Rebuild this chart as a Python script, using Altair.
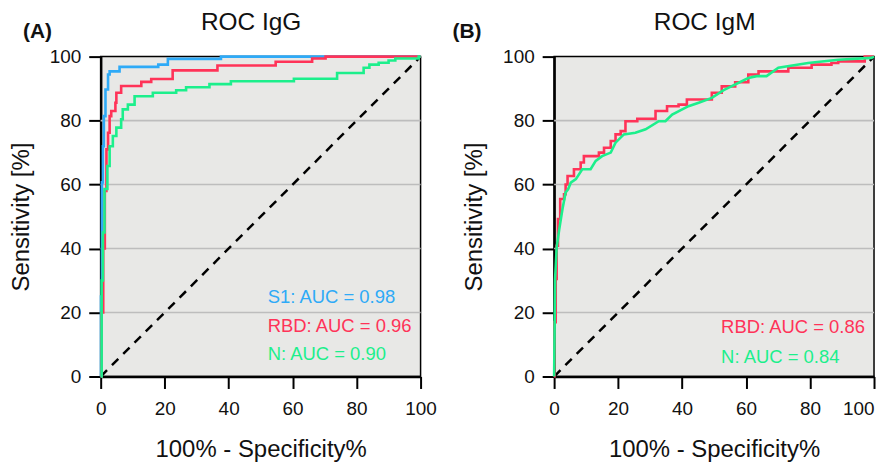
import altair as alt
import pandas as pd

FONT = "Liberation Sans"
BLUE = "#2eaaf7"
RED = "#ff3358"
GREEN = "#1cef8c"

# ---------------- data: ROC IgG ----------------
igg_s1_x = [0, 0.1, 0.4, 0.7, 1.0, 1.5, 2.3, 2.8, 5.9, 18.0, 21.0, 37.6, 100]
igg_s1_y = [0, 25, 60.7, 72, 81.4, 89.7, 94.4, 95.4, 96.8, 97.5, 99.3, 100, 100]

igg_rbd_x = [0, 0.3, 0.8, 1.3, 1.8, 2.3, 2.8, 3.3, 4.6, 4.9, 6.4, 12.7, 15.8, 22.5, 36.5, 54.7, 66.1, 70.3, 100]
igg_rbd_y = [0, 20, 40, 58, 71, 76.2, 81.4, 83, 85.6, 88.7, 90.8, 92.1, 93.0, 95.7, 97.2, 98.4, 99.4, 100, 100]

igg_n_x = [0, 0.3, 0.7, 1.2, 2.1, 2.8, 3.8, 4.9, 6.4, 6.9, 8.5, 10.6, 16.3, 23.6, 26.7, 34.0, 40.7,
           60.4, 73.9, 82.2, 84.0, 86.9, 90.0, 92.1, 99.4, 100]
igg_n_y = [0, 30, 45, 58.6, 65.8, 72, 75.2, 77.8, 80.4, 83.5, 85, 87.6, 88.7, 89.5, 90.4, 91.4, 92.3,
           93.1, 94.9, 96.5, 97.5, 98.1, 98.8, 99.4, 100, 100]

# ---------------- data: ROC IgM ----------------
igm_rbd_x = [0, 0.1, 0.5, 0.8, 1.2, 1.9, 3.1, 3.6, 4.2, 6.2, 8.3, 9.3, 14.0, 15.6, 17.7, 19.2, 20.8, 22.3,
             26.0, 31.7, 35.3, 38.9, 41.5, 49.3, 52.4, 56.6, 60.7, 63.9, 73.2, 80.5, 86.7, 88.8, 97.1, 100]
igm_rbd_y = [0, 17, 30.5, 40.9, 49.2, 55.5, 57, 60, 62.7, 64.8, 66.9, 68.9, 70, 71.5, 73.6, 75.7, 76.7, 79.8,
             80.6, 83, 84.5, 85, 86.6, 88.7, 90.7, 92, 94.4, 95.4, 96.5, 97.5, 98, 98.5, 100, 100]

igm_n_x = [0, 0.3, 0.8, 1.6, 2.6, 3.6, 4.4, 5.2, 6.8, 8.8, 11.4, 13.0, 15.0, 17.7, 19.2, 21.8, 25.4, 28.6,
           32.7, 34.8, 36.9, 42.0, 45.2, 49.3, 53.0, 60.7, 63.3, 66.4, 70.1, 79.4, 88.8, 99.2, 100]
igm_n_y = [0, 30.5, 40.4, 46, 52.3, 57.5, 58.6, 60.6, 61.7, 64.8, 64.8, 67.4, 68.9, 70, 73.1, 75.7, 76.2, 77.3,
           79.8, 79.8, 81.9, 84.5, 85.6, 87.1, 89.5, 93.3, 93.9, 93.9, 96.5, 98, 99, 99.6, 100]

# annotations
igg_labels = ["S1: AUC = 0.98", "RBD: AUC = 0.96", "N: AUC = 0.90"]
igg_label_y = [24.8, 15.8, 6.9]
igg_label_colors = [BLUE, RED, GREEN]
igm_labels = ["RBD: AUC = 0.86", "N: AUC = 0.84"]
igm_label_y = [15.5, 6.1]
igm_label_colors = [RED, GREEN]
label_x = 52.2

tick_vals = [0, 20, 40, 60, 80, 100]
grid_vals = [20, 40, 60, 80]
diag = [0, 100]

axis_style = dict(values=tick_vals, grid=False, domainColor="black", domainWidth=2.5,
                  tickColor="black", tickWidth=2, tickSize=12, labelFlush=False,
                  labelFontSize=19, labelColor="#111", labelFont=FONT,
                  titleFontSize=24, titleFontWeight="normal", titleColor="#111", titleFont=FONT)

xscale = alt.Scale(domain=[0, 100], nice=False, zero=False)
yscale = alt.Scale(domain=[0, 100], nice=False, zero=False)
xaxis_left = alt.Axis(title="100% - Specificity%", labelPadding=11, titlePadding=19, **axis_style)
# the last label of the right panel is kept inside the page edge
xaxis_right = alt.Axis(title="100% - Specificity%", labelPadding=11, titlePadding=19,
                       labelAlign={"condition": {"test": "datum.value == 100", "value": "right"},
                                   "value": "center"},
                       **axis_style)
yaxis = alt.Axis(title="Sensitivity [%]", labelPadding=8, titlePadding=16, **axis_style)


def panel(title, letter, letter_dx, series, labels, label_y, label_colors, xaxis):
    def X():
        return alt.X("x:Q", scale=xscale, axis=xaxis)

    def Y():
        return alt.Y("y:Q", scale=yscale, axis=yaxis)

    grid = alt.Chart(pd.DataFrame({"y": grid_vals})).mark_rule(
        color="#bdbdbd", strokeWidth=1.6).encode(y=Y())
    dline = alt.Chart(pd.DataFrame({"x": diag, "y": diag})).mark_line(
        color="black", strokeWidth=2.5, strokeDash=[9, 7]).encode(x=X(), y=Y())
    curves = []
    for xs, ys, color, interp in series:
        df = pd.DataFrame({"x": xs, "y": ys, "i": list(range(len(xs)))})
        curves.append(alt.Chart(df).mark_line(color=color, strokeWidth=2.6, interpolate=interp).encode(
            x=X(), y=Y(), order="i:Q"))
    txt = alt.Chart(pd.DataFrame({"x": [label_x] * len(labels), "y": label_y,
                                  "t": labels, "c": label_colors})).mark_text(
        align="left", baseline="middle", fontSize=18.5, font=FONT).encode(
        x=X(), y=Y(), text="t:N", color=alt.Color("c:N", scale=None))
    let = alt.Chart(pd.DataFrame({"t": [letter]})).mark_text(
        align="left", baseline="alphabetic", fontSize=21, fontWeight="bold", font=FONT, color="#111").encode(
        x=alt.value(letter_dx), y=alt.value(-19), text="t:N")
    ttl = alt.Chart(pd.DataFrame({"t": [title]})).mark_text(
        align="center", baseline="top", fontSize=24.5, font=FONT, color="#111").encode(
        x=alt.value(151), y=alt.value(-46), text="t:N")
    return alt.layer(grid, dline, *curves, txt, let, ttl).properties(width=321, height=321)


left = panel("ROC IgG", "(A)", -78,
             [(igg_s1_x, igg_s1_y, BLUE, "step-after"),
              (igg_rbd_x, igg_rbd_y, RED, "step-after"),
              (igg_n_x, igg_n_y, GREEN, "step-after")],
             igg_labels, igg_label_y, igg_label_colors, xaxis_left)

right = panel("ROC IgM", "(B)", -102,
              [(igm_rbd_x, igm_rbd_y, RED, "step-after"),
               (igm_n_x, igm_n_y, GREEN, "linear")],
              igm_labels, igm_label_y, igm_label_colors, xaxis_right)

chart = alt.hconcat(left, right, spacing=14).properties(
    padding=0, background="white"
).configure_view(
    fill="#e8e8e6", stroke="black", strokeWidth=1.5
)

chart.save("out.html", embed_options={"renderer": "svg", "actions": False})
